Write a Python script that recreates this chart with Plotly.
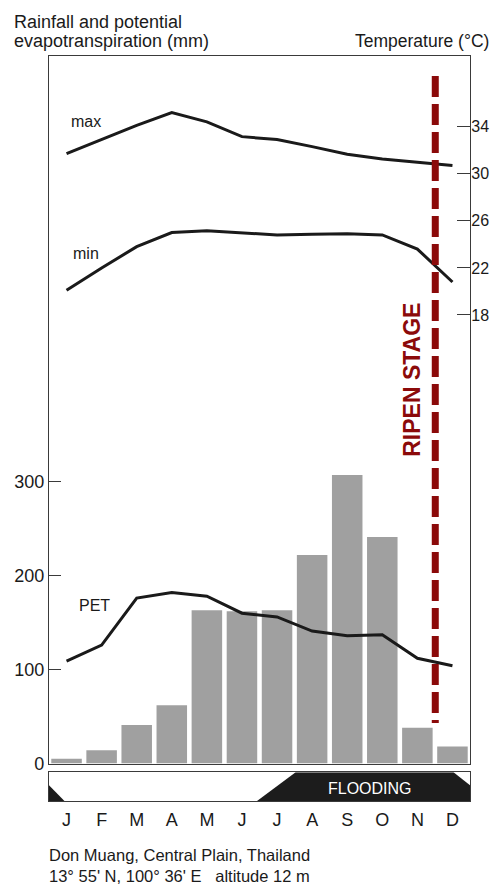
import plotly.graph_objects as go

# ---- data ----
months = ["J", "F", "M", "A", "M", "J", "J", "A", "S", "O", "N", "D"]
rainfall = [5, 14, 41, 62, 163, 162, 163, 222, 307, 241, 38, 18]
pet = [109, 126, 176, 182, 178, 160, 156, 141, 136, 137, 112, 104]
tmax = [31.7, 32.9, 34.1, 35.2, 34.4, 33.15, 32.9, 32.3, 31.65, 31.25, 31.0, 30.7]
tmin = [20.1, 22.0, 23.8, 25.0, 25.15, 25.0, 24.8, 24.85, 24.9, 24.8, 23.6, 20.8]
rain_ticks = [0, 100, 200, 300]
temp_ticks = [18, 22, 26, 30, 34]
ripen_x = 10.51
# flooding band outline (month units, 0..1 band height)
flood_x = [5.43, 6.53, 11.03, 11.5, 11.5, 5.43]
flood_y = [0, 1, 1, 0.55, 0, 0]
dry_x = [-0.5, -0.5, -0.06, -0.5]
dry_y = [0.55, 0, 0, 0.55]

idx = list(range(12))
FONT = "Liberation Sans, Arial, Helvetica, sans-serif"
INK = "#1a1a1a"
AX = "#3a3a3a"
RED = "#8b0a0a"

# the page has the default 8px body margin
OFF = 8
W, H = 491, 876
L = 49 - OFF
R = W - (470 - OFF)
T = 56 - OFF
B = H - (801 - OFF)
PW = W - L - R
PH = H - T - B


def py(pix):
    """page pixel y -> paper y"""
    return (H - B - (pix - OFF)) / PH


def px(pix):
    """page pixel x -> paper x"""
    return (pix - OFF - L) / PW


fig = go.Figure()

fig.add_trace(go.Bar(
    x=idx, y=rainfall, xaxis="x", yaxis="y", width=0.87,
    marker=dict(color="#a6a6a6", line=dict(width=0),
                pattern=dict(shape=".", fillmode="replace", bgcolor="#bababa",
                             fgcolor="#7e7e7e", size=2, solidity=0.5)),
    hoverinfo="skip", showlegend=False))

fig.add_trace(go.Scatter(x=idx, y=pet, xaxis="x", yaxis="y", mode="lines",
                         line=dict(color=INK, width=3), showlegend=False))
fig.add_trace(go.Scatter(x=idx, y=tmax, xaxis="x", yaxis="y2", mode="lines",
                         line=dict(color=INK, width=3), showlegend=False))
fig.add_trace(go.Scatter(x=idx, y=tmin, xaxis="x", yaxis="y2", mode="lines",
                         line=dict(color=INK, width=3), showlegend=False))

# flooding band
fig.add_trace(go.Scatter(x=flood_x, y=flood_y, xaxis="x2", yaxis="y3", mode="lines",
                         fill="toself", fillcolor="#1c1c1c", line=dict(width=0),
                         hoverinfo="skip", showlegend=False))
fig.add_trace(go.Scatter(x=dry_x, y=dry_y, xaxis="x2", yaxis="y3", mode="lines",
                         fill="toself", fillcolor="#1c1c1c", line=dict(width=0),
                         hoverinfo="skip", showlegend=False))

# ripen stage line
fig.add_shape(type="line", xref="x", yref="paper", x0=ripen_x, x1=ripen_x,
              y0=py(76), y1=py(723), line=dict(color=RED, width=7, dash="21px,7px"))

ann = [
    dict(text="Rainfall and potential", x=px(12), y=py(22), xref="paper", yref="paper",
         xanchor="left", yanchor="middle", font=dict(size=18, color=INK)),
    dict(text="evapotranspiration (mm)", x=px(12), y=py(40.5), xref="paper", yref="paper",
         xanchor="left", yanchor="middle", font=dict(size=18, color=INK)),
    dict(text="Temperature (°C)", x=px(491), y=py(40.5), xref="paper", yref="paper",
         xanchor="right", yanchor="middle", font=dict(size=17.5, color=INK)),
    dict(text="max", x=0.56, y=34.4, xref="x", yref="y2", font=dict(size=16, color=INK)),
    dict(text="min", x=0.56, y=23.2, xref="x", yref="y2", font=dict(size=16, color=INK)),
    dict(text="PET", x=0.81, y=168, xref="x", yref="y", font=dict(size=16, color=INK)),
    dict(text="RIPEN STAGE", x=9.84, y=py(380), xref="x", yref="paper", textangle=-90,
         font=dict(size=23, color=RED, weight="bold")),
    dict(text="FLOODING", x=8.66, y=0.45, xref="x2", yref="y3",
         font=dict(size=16, color="white")),
    dict(text="Don Muang, Central Plain, Thailand<br>13° 55' N, 100° 36' E   altitude 12 m",
         x=px(47), y=py(865), xref="paper", yref="paper", xanchor="left",
         yanchor="middle", align="left", font=dict(size=16.5, color=INK)),
]
for a in ann:
    a["showarrow"] = False

common = dict(showgrid=False, zeroline=False, automargin=False)

fig.update_layout(
    width=W, height=H,
    margin=dict(l=L, r=R, t=T, b=B, pad=0),
    paper_bgcolor="white", plot_bgcolor="rgba(0,0,0,0)",
    font=dict(family=FONT, color=INK),
    bargap=0.13, showlegend=False,
    annotations=ann,
    xaxis=dict(domain=[0, 1], anchor="y", range=[-0.5, 11.5], showline=True, mirror=True,
               linecolor=AX, linewidth=1.3, showticklabels=False, ticks="", **common),
    yaxis=dict(domain=[py(763.5), 1], anchor="x", range=[0, 753], tickvals=rain_ticks,
               ticks="inside", ticklen=12, tickwidth=1.3, tickcolor=AX, showline=True,
               linecolor=AX, linewidth=1.3, tickfont=dict(size=18, color=INK),
               ticklabelstandoff=0, **common),
    yaxis2=dict(overlaying="y", side="right", anchor="x", range=[-20.1, 40],
                tickvals=temp_ticks, ticks="inside", ticklen=13, tickwidth=1.3,
                tickcolor=AX, showline=True, linecolor=AX, linewidth=1.3,
                tickfont=dict(size=16, color=INK), ticklabelstandoff=-3, **common),
    xaxis2=dict(domain=[0, 1], anchor="y3", range=[-0.5, 11.5], tickvals=idx,
                ticktext=months, ticks="", showline=True, mirror=True, linecolor=AX,
                linewidth=1.3, tickfont=dict(size=18, color=INK), ticklabelstandoff=2,
                **common),
    yaxis3=dict(domain=[0, py(772.3)], anchor="x2", range=[0, 1], showline=True,
                mirror=True, linecolor=AX, linewidth=1.3, showticklabels=False,
                ticks="", **common),
)

fig.write_html("out.html")
